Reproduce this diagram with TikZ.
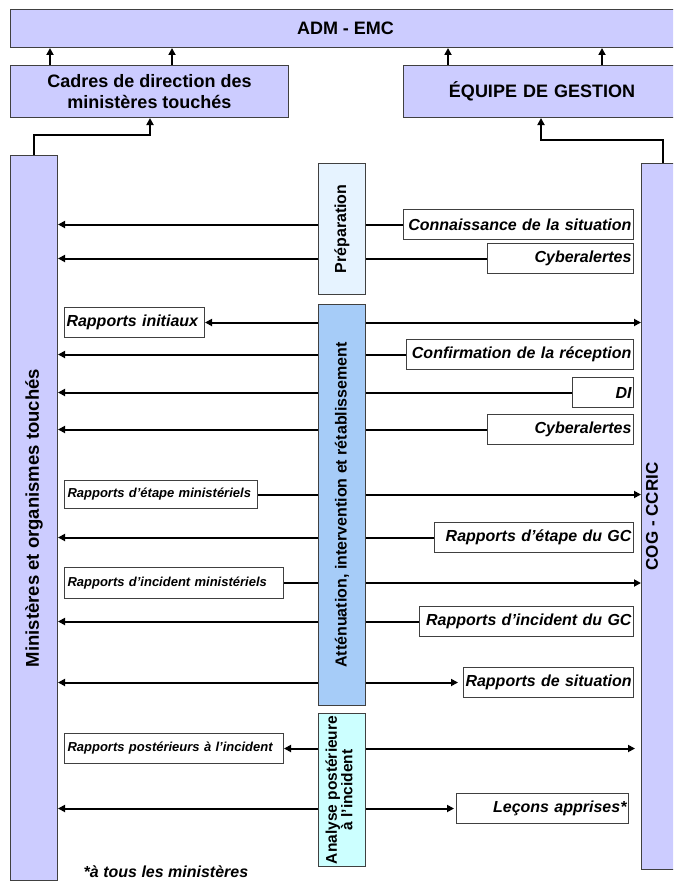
\documentclass[tikz,border=0pt]{standalone}
\usepackage{fontspec}
\setmainfont{Liberation Sans}
\usetikzlibrary{arrows.meta}
\definecolor{lavbox}{HTML}{CCCCFF}
\definecolor{prepbox}{HTML}{E6F3FF}
\definecolor{attbox}{HTML}{A6CCF8}
\definecolor{anabox}{HTML}{CCFFFF}

\begin{document}
\begin{tikzpicture}[x=1pt,y=-1pt,font=\bfseries]
    \tikzstyle{lav box}=[draw=black!75,fill=lavbox,line width=1pt,inner sep=0pt,anchor=north west,align=center,font=\fontsize{18}{21}\selectfont\bfseries]
    \tikzstyle{phase box}=[draw=black!75,line width=1pt,inner sep=0pt,minimum width=47,anchor=north west]
    \tikzstyle{side text}=[rotate=90,font=\fontsize{18.5}{20}\selectfont\bfseries]
    \tikzstyle{phase text}=[rotate=90,align=center,inner sep=0pt,font=\fontsize{16}{15}\selectfont\bfseries]
    \tikzstyle{msg}=[draw=black!75,fill=white,line width=1pt,inner xsep=2pt,inner ysep=0pt,minimum height=30,anchor=north west,align=right,font=\fontsize{16}{18}\selectfont\bfseries\itshape]
    \tikzstyle{small msg}=[msg,align=left,inner xsep=3pt,font=\fontsize{13}{15}\selectfont\bfseries\itshape]
    \tikzstyle{one way}=[line width=2pt,-{Triangle[length=7pt,width=7pt]}]
    \tikzstyle{both ways}=[line width=2pt,{Triangle[length=7pt,width=7pt]}-{Triangle[length=7pt,width=7pt]}]

    \useasboundingbox (0,0) rectangle (673,883);
    \clip (0,0) rectangle (673,883);

    \node (adm)[lav box,minimum width=670,minimum height=38] at (10,9) {ADM - EMC};
    \node (cad)[lav box,minimum width=278,minimum height=52] at (10,65) {Cadres de direction des\\ministères touchés};
    \node (eq)[lav box,minimum width=277,minimum height=52,text width=263,inner xsep=0pt] at (403,65) {ÉQUIPE DE GESTION};
    \node (min)[lav box,minimum width=47,minimum height=725] at (10,155) {};
    \node (cog)[lav box,minimum width=50,minimum height=706] at (641,163) {};

    \draw[one way] ([xshift=40pt]cad.north west) -- ([xshift=40pt]cad.north west |- adm.south);
    \draw[one way] ([xshift=162pt]cad.north west) -- ([xshift=162pt]cad.north west |- adm.south);
    \draw[one way] ([xshift=45pt]eq.north west) -- ([xshift=45pt]eq.north west |- adm.south);
    \draw[one way] ([xshift=199pt]eq.north west) -- ([xshift=199pt]eq.north west |- adm.south);
    \draw[one way] (min.north) -- ++(0,-20) -| ([xshift=140pt]cad.south west);
    \draw[one way] ([xshift=22pt]cog.north west) -- ++(0,-23) -| ([xshift=138pt]eq.south west);

    \node (conn)[msg,text width=226] at (403,209) {Connaissance de la situation};
    \node (cyb1)[msg,text width=142] at (487,243) {Cyberalertes};
    \node (rinit)[msg,align=left,text width=136] at (64,307) {Rapports initiaux};
    \node (conf)[msg,text width=223] at (406,339) {Confirmation de la réception};
    \node (di)[msg,text width=57] at (572,377) {DI};
    \node (cyb2)[msg,text width=142] at (487,414) {Cyberalertes};
    \node (etmin)[small msg,text width=187,minimum height=28] at (64,480) {Rapports d’étape ministériels};
    \node (etgc)[msg,text width=195] at (434,522) {Rapports d’étape du GC};
    \node (incmin)[small msg,text width=213,minimum height=31] at (64,567) {Rapports d’incident ministériels};
    \node (incgc)[msg,text width=210] at (419,606) {Rapports d’incident du GC};
    \node (sit)[msg,text width=166] at (463,667) {\mbox{Rapports de situation}};
    \node (post)[small msg,text width=213] at (64,733) {Rapports postérieurs à l’incident};
    \node (lec)[msg,text width=168] at (456,793) {Leçons apprises*};

    \draw[one way] (conn.west) -- (conn.west -| min.east);
    \draw[one way] (cyb1.west) -- (cyb1.west -| min.east);
    \draw[both ways] (rinit.east) -- (rinit.east -| cog.west);
    \draw[one way] (conf.west) -- (conf.west -| min.east);
    \draw[one way] (di.west) -- (di.west -| min.east);
    \draw[one way] (cyb2.west) -- (cyb2.west -| min.east);
    \draw[one way] (etmin.east) -- (etmin.east -| cog.west);
    \draw[one way] (etgc.west) -- (etgc.west -| min.east);
    \draw[one way] (incmin.east) -- (incmin.east -| cog.west);
    \draw[one way] (incgc.west) -- (incgc.west -| min.east);
    \draw[both ways] (sit.west -| min.east) -- ([xshift=-5pt]sit.west);
    \draw[both ways] (post.east) -- ([xshift=-6pt]post.east -| cog.west);
    \draw[both ways] (lec.west -| min.east) -- ([xshift=-2pt]lec.west);

    \node (prep)[phase box,fill=prepbox,minimum height=131] at (318,163) {};
    \node (att)[phase box,fill=attbox,minimum height=401] at (318,304) {};
    \node (ana)[phase box,fill=anabox,minimum height=153] at (318,713) {};

    \node (prep text)[phase text] at (prep.center) {Préparation};
    \node (att text)[phase text] at (att.center) {Atténuation, intervention et rétablissement};
    \node (ana text)[phase text,font=\fontsize{15.5}{14.5}\selectfont\bfseries] at ([xshift=-3pt]ana.center) {Analyse postérieure\\à l’incident};
    \node (min text)[side text] at (min.center) {Ministères et organismes touchés};
    \node (cog text)[side text,font=\fontsize{17}{19}\selectfont\bfseries] at ([xshift=11pt]cog.west) {COG - CCRIC};
    \node (note)[font=\fontsize{16}{18}\selectfont\bfseries\itshape] at (166,872) {*à tous les ministères};
\end{tikzpicture}
\end{document}
